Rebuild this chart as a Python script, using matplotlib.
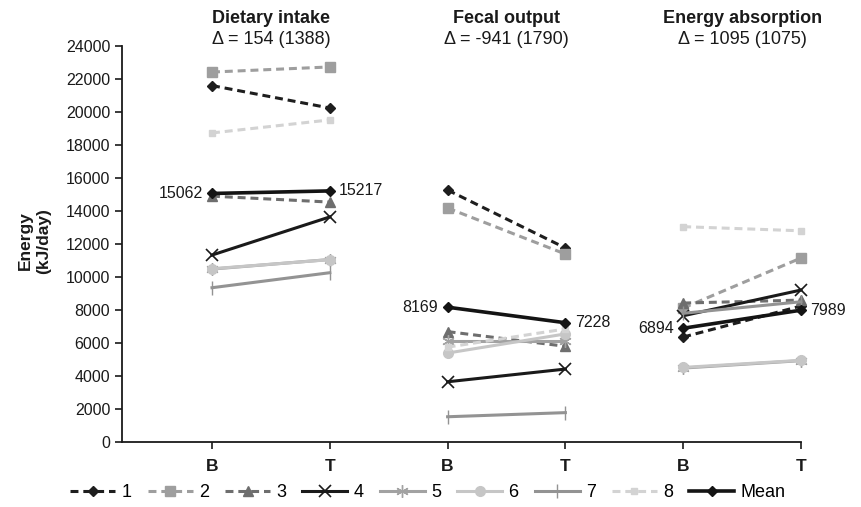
import matplotlib
matplotlib.use("Agg")
import matplotlib.pyplot as plt

plt.rcParams['font.family'] = ['Liberation Sans', 'DejaVu Sans']

panels = ["Dietary intake", "Fecal output", "Energy absorption"]
deltas = ["\u0394 = 154 (1388)", "\u0394 = -941 (1790)", "\u0394 = 1095 (1075)"]
times = ["B", "T"]

# values per series: [intake B, intake T, fecal B, fecal T, absorption B, absorption T]
s1 = [21600, 20240, 15270, 11760, 6360, 8240]
s2 = [22420, 22730, 14180, 11390, 8120, 11150]
s3 = [14900, 14540, 6690, 5800, 8420, 8600]
s4 = [11330, 13640, 3650, 4420, 7650, 9210]
s5 = [10480, 11060, 6150, 6150, 4480, 4930]
s6 = [10500, 11050, 5390, 6550, 4520, 4950]
s7 = [9350, 10260, 1530, 1780, 7800, 8500]
s8 = [18730, 19520, 5750, 6850, 13050, 12800]
mean = [15062, 15217, 8169, 7228, 6894, 7989]

series = [
    ("1", s1, dict(color="#1e1e1e", ls="--", marker="D", ms=5)),
    ("2", s2, dict(color="#9e9e9e", ls="--", marker="s", ms=7)),
    ("3", s3, dict(color="#6e6e6e", ls="--", marker="^", ms=7)),
    ("4", s4, dict(color="#1a1a1a", ls="-", marker="x", ms=9, mew=1.2)),
    ("5", s5, dict(color="#a2a2a2", ls="-", marker=(6, 2, 0), ms=9, mew=1.0)),
    ("6", s6, dict(color="#c6c6c6", ls="-", marker="o", ms=7)),
    ("7", s7, dict(color="#939393", ls="-", marker="|", ms=10, mew=1.0)),
    ("8", s8, dict(color="#d3d3d3", ls="--", marker="s", ms=5)),
    ("Mean", mean, dict(color="#141414", ls="-", marker="D", ms=5, lw=2.6)),
]

fig = plt.figure(figsize=(8.61, 5.07), dpi=100)
ax = fig.add_axes([0.1417, 0.1282, 0.7886, 0.7811])

for name, vals, st in series:
    st = dict(st)
    lw = st.pop("lw", 2.2)
    for i in range(3):
        line, = ax.plot([2 * i, 2 * i + 1], vals[2 * i:2 * i + 2], lw=lw,
                        label=name if i == 0 else None, clip_on=False,
                        mec=st["color"], **st)
        if st["ls"] == "--":
            line.set_dashes((2.6, 1.6))

# labels on the mean
for i in range(3):
    ax.text(2 * i - 0.08, mean[2 * i], str(mean[2 * i]), ha="right",
            va="center", fontsize=11.5, color="#1a1a1a")
    ax.text(2 * i + 1 + 0.08, mean[2 * i + 1], str(mean[2 * i + 1]),
            ha="left", va="center", fontsize=11.5, color="#1a1a1a")

# panel titles
for i in range(3):
    ax.text(2 * i + 0.5, 1.07, panels[i], transform=ax.get_xaxis_transform(),
            ha="center", va="center", fontsize=13, fontweight="bold",
            color="#1a1a1a")
    ax.text(2 * i + 0.5, 1.016, deltas[i], transform=ax.get_xaxis_transform(),
            ha="center", va="center", fontsize=13, color="#1a1a1a")

ax.set_xlim(-0.764, 5.0)
ax.set_ylim(0, 24000)
ax.set_yticks(range(0, 24001, 2000))
ax.set_xticks(range(6))
ax.set_xticklabels(times * 3, fontweight="bold", fontsize=12.5)
ax.tick_params(axis="y", labelsize=11.5, direction="out", length=5, width=1.2,
               colors="#1a1a1a")
ax.tick_params(axis="x", direction="out", length=5, width=1.2, pad=7,
               colors="#1a1a1a")
for sp in ["top", "right"]:
    ax.spines[sp].set_visible(False)
for sp in ["left", "bottom"]:
    ax.spines[sp].set_linewidth(1.3)
    ax.spines[sp].set_color("#1a1a1a")

fig.text(0.040, 0.525, "Energy\n(kJ/day)", rotation=90, ha="center",
         va="center", fontsize=12.5, fontweight="bold", color="#1a1a1a",
         linespacing=1.2)

fig.legend(loc="center", bbox_to_anchor=(0.497, 0.028), ncol=9, frameon=False,
           fontsize=13, handlelength=2.5, handletextpad=0.35,
           columnspacing=0.88)

fig.savefig("out.png", dpi=100)
